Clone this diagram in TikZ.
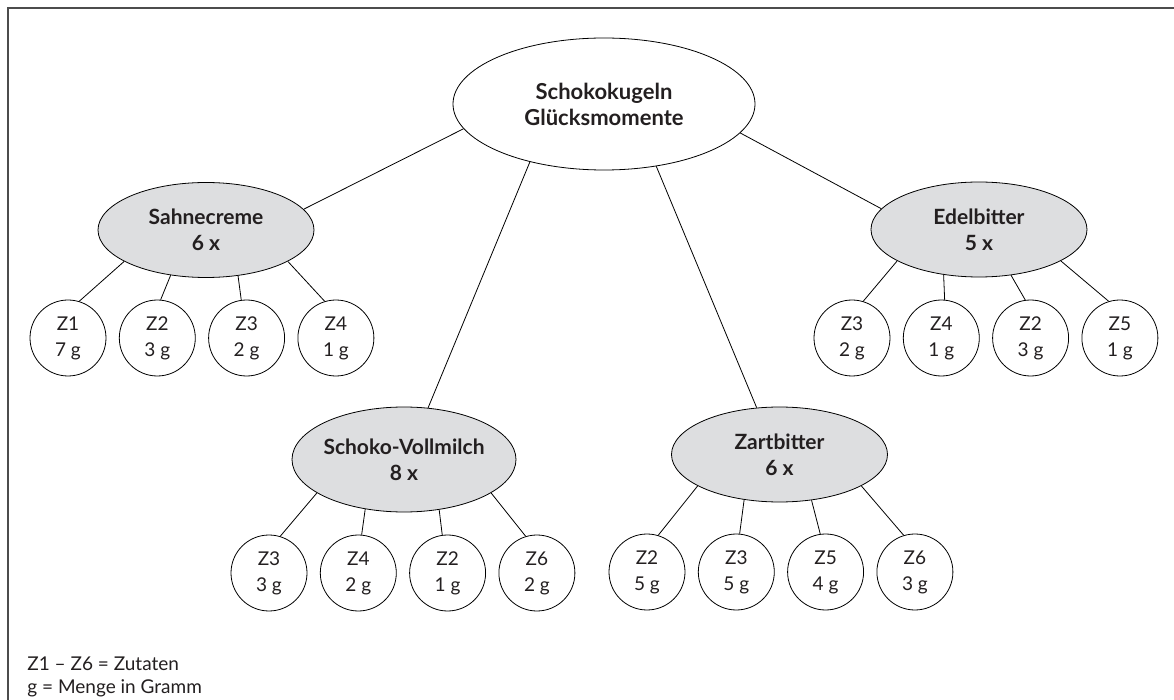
\documentclass[tikz,border=0pt]{standalone}
\usepackage{fontspec}
\setmainfont{Lato}
\usetikzlibrary{shapes,positioning}
\definecolor{kugelgrau}{RGB}{221,222,224}
\definecolor{druck}{RGB}{35,31,32}
\tikzset{
	auto, node distance = 6.25pt and 6.25pt, line width=1pt, color=druck,
	haupt/.style ={ellipse, draw, fill=white, inner sep=0pt, minimum width=151pt, minimum height=66pt, align=center, font=\bfseries\fontsize{11}{13}\selectfont},
	sorte/.style ={ellipse, draw, fill=kugelgrau, inner sep=0pt, minimum width=108pt, minimum height=47.5pt, align=center, font=\bfseries\fontsize{10.5}{13}\selectfont},
	zutat/.style = {circle, draw, inner sep=0pt, minimum size=38pt, align=center, font=\fontsize{9.5}{13}\selectfont},
	legende/.style = {anchor=base west, inner sep=0pt, font=\fontsize{9.5}{11.5}\selectfont},
	rahmen/.style = {line width=0.7pt, black!70}
}

\begin{document}
\begin{tikzpicture}[x=0.5pt, y=-0.5pt]

    \useasboundingbox (0,0) rectangle (1174,700);
    \draw[rahmen] (8,700) |- (1174,8);

    \node[haupt] (root) at (604,104) {Schokokugeln\\Glücksmomente};
    \node[sorte] (sahne) at (206,230) {Sahnecreme\\6 x};
    \node[sorte] (edel) at (979,229.5) {Edelbitter\\5 x};
    \node[sorte, minimum width=112pt, minimum height=52.5pt, inner xsep=-3pt] (voll) at (404,459.5) {Schoko-Vollmilch\\8 x};
    \node[sorte] (zart) at (779.5,454.5) {Zartbitter\\6 x};

    \path (root.190) edge (sahne.12);
    \path (root.218) edge (voll.65);
    \path (root.-50) edge (zart.116);
    \path (root.-12) edge (edel.168);

    % Sahnecreme
    \node[zutat] (sahne1) at (68,338) {Z1\\7 g};
    \node[zutat, right=of sahne1] (sahne2) {Z2\\3 g};
    \node[zutat, right=of sahne2] (sahne3) {Z3\\2 g};
    \node[zutat, right=of sahne3] (sahne4) {Z4\\1 g};

    \path (sahne.-159) edge (sahne1.73);
    \path (sahne.-128) edge (sahne2.85);
    \path (sahne.-55) edge (sahne3.98);
    \path (sahne.-21) edge (sahne4.107);

    % Edelbitter
    \node[zutat] (edel1) at (852,338) {Z3\\2 g};
    \node[zutat, right=of edel1] (edel2) {Z4\\1 g};
    \node[zutat, right=of edel2] (edel3) {Z2\\3 g};
    \node[zutat, right=of edel3] (edel4) {Z5\\1 g};

    \path (edel.-159) edge (edel1.73);
    \path (edel.-128) edge (edel2.85);
    \path (edel.-55) edge (edel3.98);
    \path (edel.-21) edge (edel4.107);

    % Schoko-Vollmilch
    \node[zutat] (voll1) at (269,573) {Z3\\3 g};
    \node[zutat, right=of voll1] (voll2) {Z4\\2 g};
    \node[zutat, right=of voll2] (voll3) {Z2\\1 g};
    \node[zutat, right=of voll3] (voll4) {Z6\\2 g};

    \path (voll.-159) edge (voll1.73);
    \path (voll.-128) edge (voll2.85);
    \path (voll.-55) edge (voll3.98);
    \path (voll.-21) edge (voll4.107);

    % Zartbitter
    \node[zutat] (zart1) at (647,572) {Z2\\5 g};
    \node[zutat, right=of zart1] (zart2) {Z3\\5 g};
    \node[zutat, right=of zart2] (zart3) {Z5\\4 g};
    \node[zutat, right=of zart3] (zart4) {Z6\\3 g};

    \path (zart.-159) edge (zart1.73);
    \path (zart.-128) edge (zart2.85);
    \path (zart.-55) edge (zart3.98);
    \path (zart.-21) edge (zart4.107);

    \node[legende] (leg1) at (27,670) {Z1 – Z6 = Zutaten};
    \node[legende] (leg2) at (27,693) {g = Menge in Gramm};

\end{tikzpicture}
\end{document}
